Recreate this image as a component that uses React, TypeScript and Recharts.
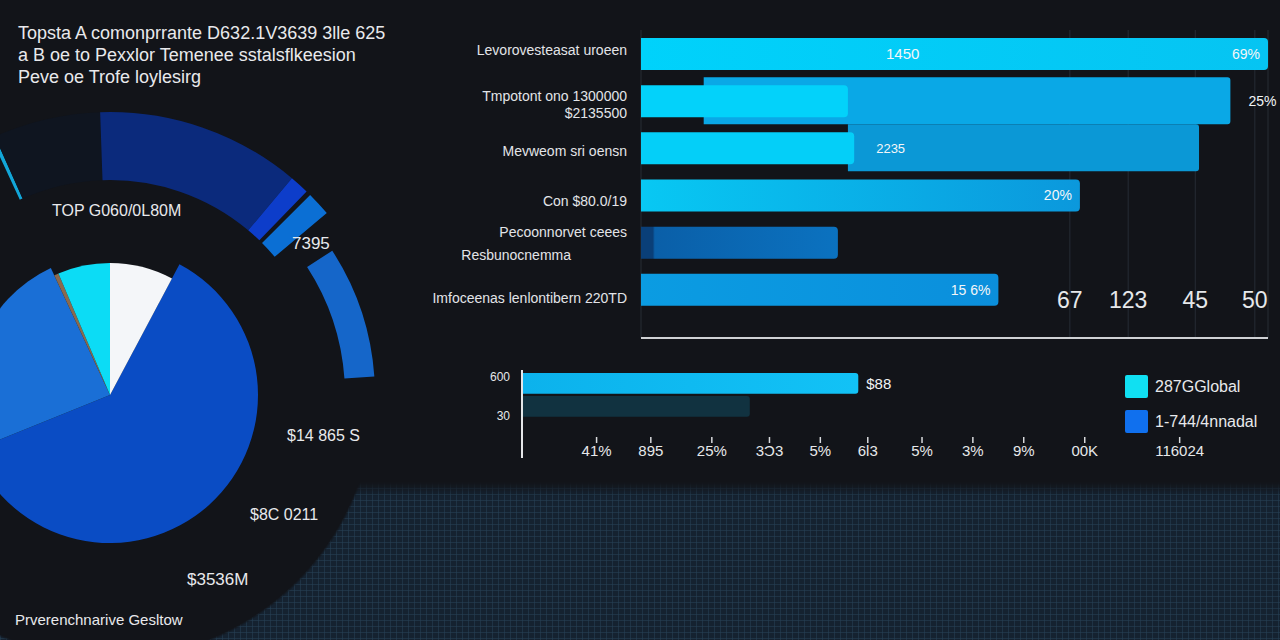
import React from "react";
import {
  BarChart,
  Bar,
  XAxis,
  YAxis,
  CartesianGrid,
  LabelList,
  Cell,
  PieChart,
  Pie,
} from "recharts";

const FONT = '"Liberation Sans", Arial, sans-serif';
const BG = "#121419";

// header text
const titleLines = [
  "Topsta A comonprrante D632.1V3639 3lle 625",
  "a B oe to Pexxlor Temenee sstalsflkeesion",
  "Peve oe Trofe loylesirg",
];

// left pie
const pieNames = ["White", "Deep", "Azure", "Bronze", "Cyan"];
const pieValues = [28, 220, 87, 2, 23];
const pieColors = ["#f4f6f9", "#0a4cc4", "#1a6fd6", "#8a6a4e", "#0cdcf5"];
const pieLayer = [2, 0, 1, 2, 2];
const pieLayerRadius = [148, 140, 132];

const ringANames = ["edge", "shade", "navy", "bright", "gap1", "light", "rest"];
const ringAValues = [0.8, 22, 42, 4, 1, 5, 285.2];
const ringAColors = ["#12a6d8", "#0f1520", "#0b2a7c", "#0d3dca", "none", "#0b6fd4", "none"];

const ringBNames = ["arc", "rest"];
const ringBValues = [29, 331];
const ringBColors = ["#1566c9", "none"];

const pieNotes = ["TOP G060/0L80M", "7395", "$14 865 S", "$8C 0211", "$3536M", "Prverenchnarive Gesltow"];
const pieNoteStyle = [
  { left: 52, top: 202, fontSize: 16 },
  { left: 292, top: 234, fontSize: 17 },
  { left: 287, top: 427, fontSize: 16 },
  { left: 250, top: 506, fontSize: 16 },
  { left: 187, top: 570, fontSize: 17 },
  { left: 15, top: 611, fontSize: 15 },
];

// top right bars
const topRows = ["Lev", "Tmp", "Mev", "Con", "Res", "Imf"];
const topTickLines = [
  ["Levorovesteasat uroeen"],
  ["Tmpotont ono 1300000", "$2135500"],
  ["Mevweom sri oensn"],
  ["Con $80.0/19", "Pecoonnorvet ceees"],
  ["Resbunocnemma"],
  ["Imfoceenas lenlontibern 220TD"],
];
const tickGap = [0, 17, 0, 31, 0, 0];
const tickNudgeY = [-4, 4, 3, 21.5, 13, 9];
const tickNudgeX = [0, 0, 0, 0, -56, 0];
const topMain = [100, 33, 34, 70, 31.4, 57];
const topBack: ([number, number] | null)[] = [null, [10, 94], [33, 89], null, null, null];
const topEndLabels = ["69%", "", "", "20%", "", "15 6%"];
const topMidLabels = ["1450", "", "", "", "", ""];
const topSideLabels = ["", "", "2235", "", "", ""];
const topBackLabels = ["", "25%", "", "", "", ""];
const topMainFills = ["url(#gLev)", "#03d2fa", "#04cff8", "url(#gCon)", "url(#gRes)", "url(#gImf)"];
const topBackFills = ["none", "#0aa8e6", "#0b98d6", "none", "none", "none"];
const topTicks = [68.4, 77.7, 88.4, 97.9];
const topTickLabels = ["67", "123", "45", "50"];

// bottom right bars
const lowRows = ["600", "30"];
const lowValues = [49.6, 33.6];
const lowLabels = ["$88", ""];
const lowFills = ["url(#gLow)", "#113240"];
const lowTicks = [11, 19, 28, 36.5, 44, 51, 59, 66.5, 74, 83, 97];
const lowTickLabels = ["41%", "895", "25%", "3Ɔ3", "5%", "6Ɩ3", "5%", "3%", "9%", "00K", "116024"];
const lowTickNudge = [-7, 9];

const legendNames = ["287GGlobal", "1-744/4nnadal"];
const legendColors = ["#10e0f2", "#1070ee"];

const topData = topRows.map((name, i) => ({
  name,
  main: topMain[i],
  back: topBack[i],
  endLabel: topEndLabels[i],
  midLabel: topMidLabels[i],
  sideLabel: topSideLabels[i],
  backLabel: topBackLabels[i],
}));

const lowData = lowRows.map((name, i) => ({ name, value: lowValues[i], label: lowLabels[i] }));

const pieData = pieNames.map((name, i) => ({ name, value: pieValues[i] }));
const ringAData = ringANames.map((name, i) => ({ name, value: ringAValues[i] }));
const ringBData = ringBNames.map((name, i) => ({ name, value: ringBValues[i] }));

function TopYTick(props: any) {
  const { x, y, index } = props;
  const lines = topTickLines[index] || [];
  const gap = tickGap[index];
  const first = y - ((lines.length - 1) * gap) / 2 + tickNudgeY[index];
  return (
    <g>
      {lines.map((t, k) => (
        <text
          key={k}
          x={x + tickNudgeX[index]}
          y={first + k * gap}
          dy={5}
          textAnchor="end"
          fontSize={14}
          fill="#e2e4e8"
          fontFamily={FONT}
        >
          {t}
        </text>
      ))}
    </g>
  );
}

function TopXTick(props: any) {
  const { x, y, index } = props;
  return (
    <text x={x} y={y - 30} textAnchor="middle" fontSize={23} fill="#e6e8ea" fontFamily={FONT}>
      {topTickLabels[index]}
    </text>
  );
}

function LowXTick(props: any) {
  const { x, y, index } = props;
  return (
    <g>
      <line x1={x} x2={x} y1={y - 21} y2={y - 15} stroke="#d8dadd" strokeWidth={1.5} />
      <text x={x} y={y - 2} textAnchor="middle" fontSize={15} fill="#e6e8ea" fontFamily={FONT}>
        {lowTickLabels[index]}
      </text>
    </g>
  );
}

function LowYTick(props: any) {
  const { x, y, index } = props;
  return (
    <text x={x} y={y + lowTickNudge[index]} dy={4} textAnchor="end" fontSize={12} fill="#e6e8ea" fontFamily={FONT}>
      {lowRows[index]}
    </text>
  );
}

const floorMask =
  "radial-gradient(circle 266px at 110px -87px, transparent 99%, black 100%), linear-gradient(to bottom, transparent 0px, black 14px)";

export default function App() {
  return (
    <div
      style={{
        position: "absolute",
        left: 0,
        top: 0,
        width: 1280,
        height: 640,
        background: BG,
        overflow: "hidden",
        fontFamily: FONT,
        color: "#e8e9ec",
      }}
    >
      {/* textured floor */}
      <div
        style={{
          position: "absolute",
          left: 0,
          top: 482,
          width: 1280,
          height: 158,
          backgroundColor: "#152230",
          backgroundImage:
            "linear-gradient(to right, rgba(40,66,86,0.55) 1px, transparent 1px), linear-gradient(to bottom, rgba(40,66,86,0.55) 1px, transparent 1px)",
          backgroundSize: "6px 6px",
          WebkitMaskImage: floorMask,
          WebkitMaskComposite: "source-in",
          maskImage: floorMask,
          maskComposite: "intersect",
        }}
      />

      <div style={{ position: "absolute", left: 18, top: 22, fontSize: 18, lineHeight: "22px" }}>
        {titleLines.map((t, i) => (
          <div key={i}>{t}</div>
        ))}
      </div>

      <div style={{ position: "absolute", left: 0, top: 0 }}>
        <PieChart width={420} height={640} margin={{ top: 0, right: 0, bottom: 0, left: 0 }}>
          <Pie
            data={ringAData}
            dataKey="value"
            cx={110}
            cy={395}
            innerRadius={215}
            outerRadius={283}
            startAngle={114.8}
            endAngle={-245.2}
            stroke="none"
            isAnimationActive={false}
          >
            {ringAData.map((d, i) => (
              <Cell key={d.name} fill={ringAColors[i]} />
            ))}
          </Pie>
          <Pie
            data={ringBData}
            dataKey="value"
            cx={110}
            cy={395}
            innerRadius={235}
            outerRadius={265}
            startAngle={33}
            endAngle={-327}
            stroke="none"
            isAnimationActive={false}
          >
            {ringBData.map((d, i) => (
              <Cell key={d.name} fill={ringBColors[i]} />
            ))}
          </Pie>
          {pieLayerRadius.map((r, layer) => (
            <Pie
              key={layer}
              data={pieData}
              dataKey="value"
              cx={110}
              cy={395}
              outerRadius={r}
              startAngle={90}
              endAngle={-270}
              stroke="none"
              isAnimationActive={false}
            >
              {pieData.map((d, i) => (
                <Cell key={d.name} fill={pieLayer[i] === layer ? pieColors[i] : "none"} />
              ))}
            </Pie>
          ))}
        </PieChart>
      </div>

      {pieNotes.map((t, i) => (
        <div key={i} style={{ position: "absolute", whiteSpace: "nowrap", ...pieNoteStyle[i] }}>
          {t}
        </div>
      ))}

      <div style={{ position: "absolute", left: 380, top: 20 }}>
        <BarChart
          width={900}
          height={330}
          data={topData}
          layout="vertical"
          margin={{ top: 10, right: 12, bottom: 10, left: 0 }}
        >
          <defs>
            <linearGradient id="gLev" x1="0" y1="0" x2="1" y2="0">
              <stop offset="0%" stopColor="#00d2fb" />
              <stop offset="100%" stopColor="#06c4f2" />
            </linearGradient>
            <linearGradient id="gCon" x1="0" y1="0" x2="1" y2="0">
              <stop offset="0%" stopColor="#08c8f3" />
              <stop offset="100%" stopColor="#0b98dc" />
            </linearGradient>
            <linearGradient id="gRes" x1="0" y1="0" x2="1" y2="0">
              <stop offset="0%" stopColor="#0a3f78" />
              <stop offset="6%" stopColor="#0a3f78" />
              <stop offset="7%" stopColor="#0a5fa8" />
              <stop offset="100%" stopColor="#0b72c0" />
            </linearGradient>
            <linearGradient id="gImf" x1="0" y1="0" x2="1" y2="0">
              <stop offset="0%" stopColor="#0b9ce2" />
              <stop offset="100%" stopColor="#0b8fdc" />
            </linearGradient>
          </defs>
          <CartesianGrid horizontal={false} stroke="#262c35" />
          <XAxis
            type="number"
            domain={[0, 100]}
            ticks={topTicks}
            height={2}
            tickSize={0}
            tickMargin={0}
            tickLine={false}
            axisLine={{ stroke: "#cfd1d4", strokeWidth: 2 }}
            tick={<TopXTick />}
            interval={0}
          />
          <YAxis
            yAxisId="main"
            type="category"
            dataKey="name"
            width={261}
            tickSize={0}
            tickMargin={14}
            tickLine={false}
            axisLine={false}
            padding={{ top: 0, bottom: 25 }}
            tick={<TopYTick />}
            interval={0}
          />
          <YAxis
            yAxisId="back"
            type="category"
            dataKey="name"
            hide
            width={0}
            padding={{ top: 0, bottom: 25 }}
          />
          <Bar yAxisId="back" dataKey="back" barSize={47} isAnimationActive={false} radius={[0, 3, 3, 0]}>
            {topData.map((d, i) => (
              <Cell key={d.name} fill={topBackFills[i]} />
            ))}
            <LabelList dataKey="backLabel" position="right" offset={18} fill="#f2f4f6" fontSize={14} />
          </Bar>
          <Bar yAxisId="main" dataKey="main" barSize={32} isAnimationActive={false} radius={[0, 4, 4, 0]}>
            {topData.map((d, i) => (
              <Cell key={d.name} fill={topMainFills[i]} />
            ))}
            <LabelList dataKey="endLabel" position="insideRight" offset={8} fill="#f4f6f8" fontSize={14} />
            <LabelList dataKey="midLabel" position="insideLeft" offset={245} fill="#f4f6f8" fontSize={15} />
            <LabelList dataKey="sideLabel" position="right" offset={22} fill="#f4f6f8" fontSize={13} />
          </Bar>
        </BarChart>
      </div>

      <div style={{ position: "absolute", left: 470, top: 360 }}>
        <BarChart
          width={740}
          height={110}
          data={lowData}
          layout="vertical"
          barCategoryGap={0}
          margin={{ top: 10, right: 10, bottom: 10, left: 0 }}
        >
          <defs>
            <linearGradient id="gLow" x1="0" y1="0" x2="1" y2="0">
              <stop offset="0%" stopColor="#0cb2ec" />
              <stop offset="100%" stopColor="#12c2f6" />
            </linearGradient>
          </defs>
          <XAxis
            type="number"
            domain={[0, 100]}
            ticks={lowTicks}
            height={2}
            tickSize={0}
            tickMargin={0}
            tickLine={false}
            axisLine={false}
            tick={<LowXTick />}
            interval={0}
          />
          <YAxis
            type="category"
            dataKey="name"
            width={52}
            tickSize={0}
            tickMargin={12}
            tickLine={false}
            axisLine={{ stroke: "#e4e6e8", strokeWidth: 2 }}
            padding={{ top: 2, bottom: 40 }}
            tick={<LowYTick />}
            interval={0}
          />
          <Bar dataKey="value" barSize={23} isAnimationActive={false} radius={[0, 3, 3, 0]}>
            {lowData.map((d, i) => (
              <Cell key={d.name} fill={lowFills[i]} />
            ))}
            <LabelList dataKey="label" position="right" offset={8} fill="#f2f4f6" fontSize={15} />
          </Bar>
        </BarChart>
      </div>

      <div style={{ position: "absolute", left: 1125, top: 375 }}>
        {legendNames.map((n, i) => (
          <div key={n} style={{ display: "flex", alignItems: "center", height: 23, marginBottom: 12 }}>
            <div style={{ width: 23, height: 23, borderRadius: 2, background: legendColors[i], marginRight: 7 }} />
            <span style={{ fontSize: 16, whiteSpace: "nowrap" }}>{n}</span>
          </div>
        ))}
      </div>
    </div>
  );
}
